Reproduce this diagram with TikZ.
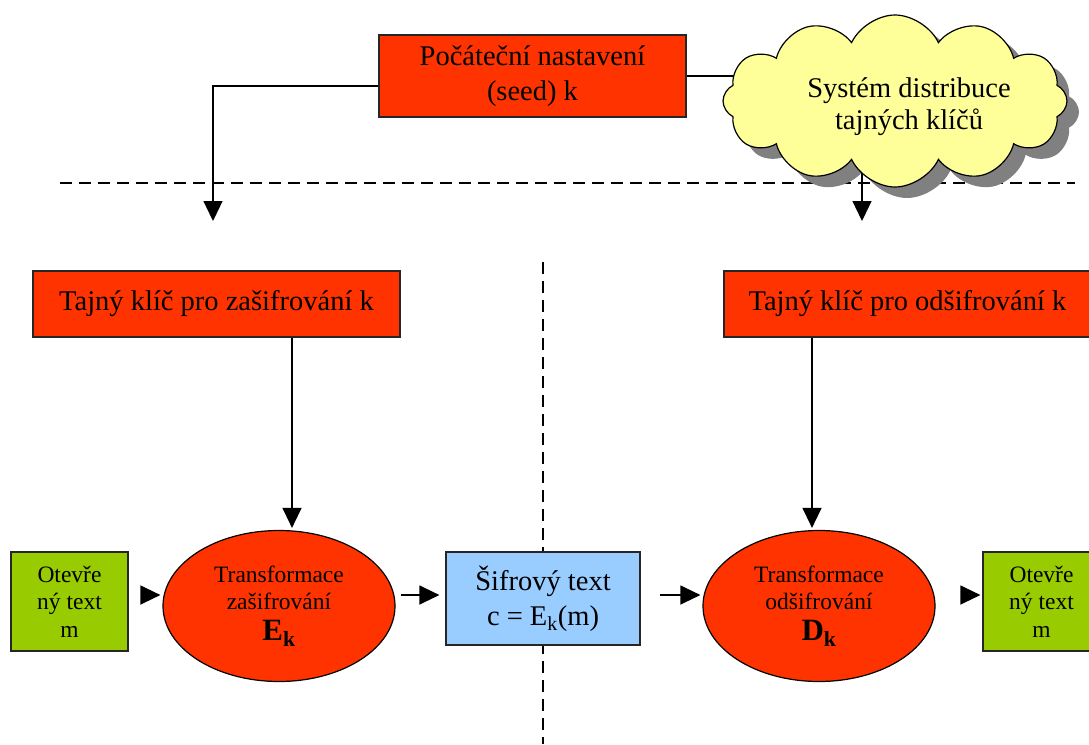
\documentclass[tikz,border=0pt]{standalone}
\usepackage{fontspec}
\setmainfont{Liberation Serif}
\usetikzlibrary{shapes.geometric, shapes.symbols, arrows.meta, shadows, backgrounds}

\definecolor{keyred}{HTML}{FF3300}
\definecolor{plaingreen}{HTML}{99CC00}
\definecolor{cipherblue}{HTML}{99CCFF}
\definecolor{cloudyellow}{HTML}{FFFF99}

\tikzset{
  bigfont/.style={font=\fontsize{28.5}{35}\selectfont},
  smallfont/.style={font=\fontsize{23.5}{27.5}\selectfont},
  redbox/.style={draw=black!85, line width=1.2pt, fill=keyred, inner sep=0pt, align=center, bigfont},
  plainbox/.style={draw=black!85, line width=1.2pt, fill=plaingreen, minimum width=117pt, minimum height=99pt, inner sep=0pt, align=center, smallfont},
  transf/.style={ellipse, draw=black, line width=1.2pt, fill=keyred, minimum width=232pt, minimum height=151pt, inner sep=0pt, align=center, smallfont},
  arr/.style={-{Triangle[length=20pt,width=19pt]}, line width=1.3pt, shorten >=2pt},
  sep/.style={dash pattern=on 12pt off 7pt, line width=1.4pt},
}

\begin{document}
\begin{tikzpicture}[x=1pt, y=-1pt]
\clip (0,0) rectangle (1089,744);

% Seed and key distribution
\node[redbox, minimum width=307pt, minimum height=82pt] (seed) at (532.5,76) {Počáteční nastavení\\(seed) k};
\node[cloud, cloud puffs=12, cloud puff arc=130, cloud ignores aspect, draw=black, line width=1.2pt, fill=cloudyellow,
      minimum width=344pt, minimum height=172pt,
      drop shadow={shadow xshift=12pt, shadow yshift=-11pt, fill=gray, opacity=1}] (cloud) at (895,101) {};
\node[font=\fontsize{28.5}{32}\selectfont, align=center] (distr) at (909,107) {Systém distribuce\\tajných klíčů};

\coordinate (tipE) at (213,223);
\coordinate (tipD) at (862,223);
\draw[arr] ([yshift=-10pt]seed.west) -| (tipE);

\begin{scope}[on background layer]
\draw[line width=1.2pt] (seed.east) -- (seed.east -| cloud.center);
\draw[arr] (cloud.center -| tipD) -- (tipD);
\draw[sep] (60,183) -- (1075,183);
\draw[sep, line width=1.1pt] (543,262) -- (543,744);
\end{scope}

% Secret keys
\node[redbox, minimum width=367pt, minimum height=66pt] (keyE) at (216.5,304) {Tajný klíč pro zašifrování k};
\node[redbox, minimum width=367pt, minimum height=66pt] (keyD) at (907.5,304) {Tajný klíč pro odšifrování k};

% Transformations
\node[plainbox] (plainL) at (69.5,601.5) {Otevře\\ný text\\m};
\node[transf] (encr) at (279,606) {Transformace\\zašifrování\\[3pt]{\fontsize{31}{31}\selectfont\textbf{E\textsubscript{k}}}};
\node[redbox, fill=cipherblue, minimum width=194pt, minimum height=93pt] (cipher) at (543,598.5) {Šifrový text\\c = E\textsubscript{k}(m)};
\node[transf] (decr) at (819,606) {Transformace\\odšifrování\\[3pt]{\fontsize{31}{31}\selectfont\textbf{D\textsubscript{k}}}};
\node[plainbox] (plainR) at (1041.5,601.5) {Otevře\\ný text\\m};

\coordinate (colE) at (292,0);
\coordinate (colD) at (812,0);
\coordinate (row) at (0,595);
\draw[arr] (keyE.south -| colE) -- (encr.north -| colE);
\draw[arr] (keyD.south -| colD) -- (decr.north -| colD);
\draw[arr] ([xshift=14pt]plainL.east |- row) -- (encr.west |- row);
\draw[arr, shorten >=6pt] ([xshift=5pt]encr.east |- row) -- (cipher.west |- row);
\draw[arr] ([xshift=19pt]cipher.east |- row) -- (decr.west |- row);
\draw[arr] ([xshift=27pt]decr.east |- row) -- (plainR.west |- row);
\end{tikzpicture}
\end{document}
